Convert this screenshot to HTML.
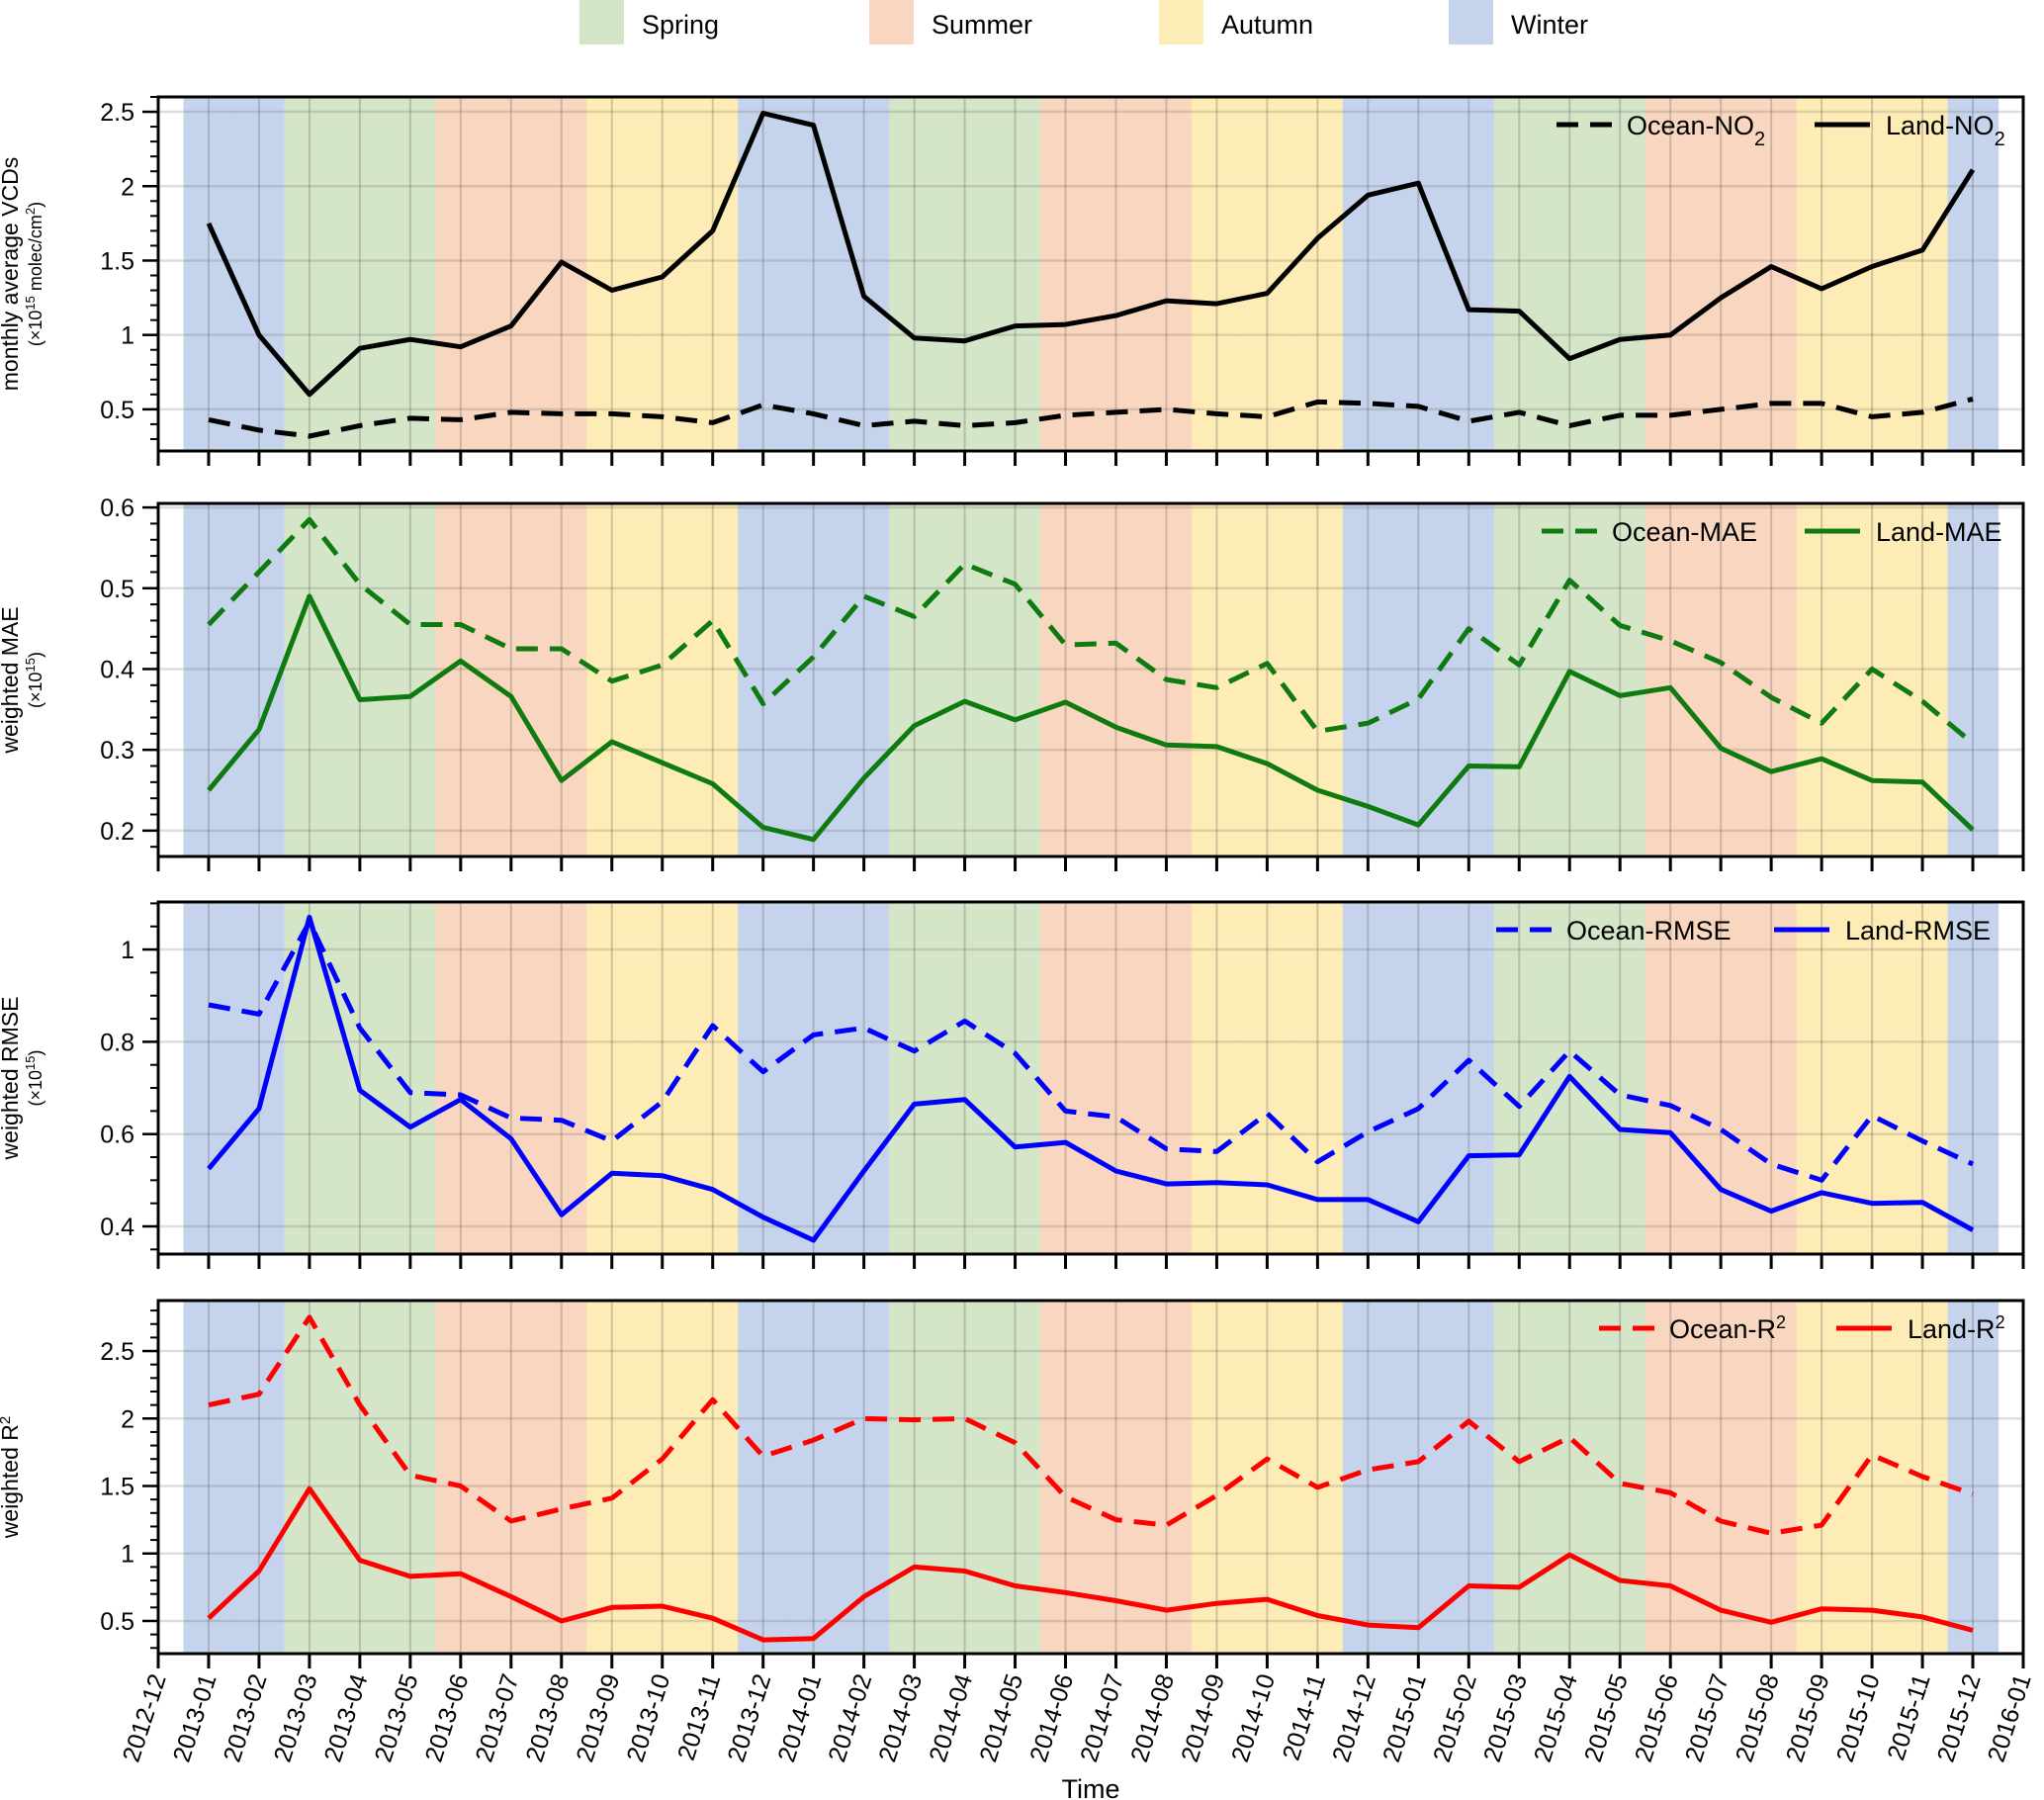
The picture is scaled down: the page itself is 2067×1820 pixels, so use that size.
<!DOCTYPE html>
<html><head><meta charset="utf-8">
<style>
html,body{margin:0;padding:0;background:#fff;}
svg{display:block;font-family:"Liberation Sans",sans-serif;}
</style></head>
<body>
<svg id="chart" width="2067" height="1820" viewBox="0 0 2067 1820"></svg>
<script>
const months = ["2012-12","2013-01","2013-02","2013-03","2013-04","2013-05","2013-06","2013-07","2013-08","2013-09","2013-10","2013-11","2013-12","2014-01","2014-02","2014-03","2014-04","2014-05","2014-06","2014-07","2014-08","2014-09","2014-10","2014-11","2014-12","2015-01","2015-02","2015-03","2015-04","2015-05","2015-06","2015-07","2015-08","2015-09","2015-10","2015-11","2015-12","2016-01"];
const landNO2 = [1.75,1.0,0.6,0.91,0.97,0.92,1.06,1.49,1.3,1.39,1.7,2.49,2.41,1.26,0.98,0.96,1.06,1.07,1.13,1.23,1.21,1.28,1.65,1.94,2.02,1.17,1.16,0.84,0.97,1.0,1.25,1.46,1.31,1.46,1.57,2.11];
const oceanNO2 = [0.43,0.36,0.32,0.39,0.44,0.43,0.48,0.47,0.47,0.45,0.41,0.53,0.47,0.39,0.42,0.39,0.41,0.46,0.48,0.5,0.47,0.45,0.55,0.54,0.52,0.42,0.48,0.39,0.46,0.46,0.5,0.54,0.54,0.45,0.48,0.57];
const oceanMAE = [0.455,0.52,0.585,0.505,0.455,0.455,0.425,0.425,0.385,0.405,0.46,0.357,0.415,0.49,0.465,0.53,0.505,0.43,0.432,0.387,0.377,0.407,0.323,0.333,0.363,0.45,0.405,0.51,0.454,0.435,0.408,0.365,0.333,0.4,0.36,0.308];
const landMAE = [0.25,0.325,0.49,0.362,0.366,0.41,0.366,0.262,0.31,0.284,0.258,0.204,0.189,0.265,0.33,0.36,0.337,0.359,0.328,0.306,0.304,0.283,0.25,0.23,0.207,0.28,0.279,0.397,0.367,0.377,0.302,0.273,0.289,0.262,0.26,0.201];
const oceanRMSE = [0.88,0.86,1.06,0.83,0.69,0.685,0.635,0.63,0.585,0.67,0.835,0.735,0.815,0.83,0.78,0.845,0.775,0.65,0.637,0.568,0.562,0.645,0.54,0.605,0.655,0.76,0.66,0.78,0.685,0.662,0.61,0.535,0.5,0.64,0.585,0.535];
const landRMSE = [0.525,0.655,1.07,0.695,0.615,0.675,0.59,0.425,0.515,0.51,0.48,0.42,0.37,0.52,0.665,0.675,0.572,0.582,0.52,0.492,0.495,0.49,0.458,0.458,0.41,0.553,0.555,0.725,0.61,0.603,0.48,0.433,0.473,0.45,0.452,0.392];
const oceanR2 = [2.1,2.18,2.75,2.1,1.58,1.5,1.24,1.33,1.41,1.7,2.14,1.72,1.84,2.0,1.99,2.0,1.82,1.42,1.25,1.21,1.43,1.7,1.49,1.62,1.68,1.98,1.68,1.86,1.52,1.45,1.24,1.15,1.21,1.73,1.57,1.44];
const landR2 = [0.52,0.87,1.48,0.95,0.83,0.85,0.68,0.5,0.6,0.61,0.52,0.36,0.37,0.68,0.9,0.87,0.76,0.71,0.65,0.58,0.63,0.66,0.54,0.47,0.45,0.76,0.75,0.99,0.8,0.76,0.58,0.49,0.59,0.58,0.53,0.43];
const ticksNO2 = [0.5,1,1.5,2,2.5];
const ticksMAE = [0.2,0.3,0.4,0.5,0.6];
const ticksRMSE = [0.4,0.6,0.8,1];
const ticksR2 = [0.5,1,1.5,2,2.5];
const seasonNames = ["Spring","Summer","Autumn","Winter"];

const NS = "http://www.w3.org/2000/svg";
const svg = document.getElementById("chart");
function mk(tag, attrs, parent){ const e=document.createElementNS(NS,tag); for(const k in attrs) e.setAttribute(k,attrs[k]); (parent||svg).appendChild(e); return e; }

const X0=160, X1=2046;
function xs(i){ return X0 + i*(X1-X0)/37; }
const seasonColors = {Spring:"#d5e5c8",Summer:"#f9d6bf",Autumn:"#feecb6",Winter:"#c5d4ec"};
function seasonOf(m){ if(m===12||m<=2) return "Winter"; if(m<=5) return "Spring"; if(m<=8) return "Summer"; return "Autumn"; }

const legX = [586,879,1172,1465];
seasonNames.forEach((s,k)=>{
  const g = mk("g",{});
  
  
  mk("rect",{x:legX[k],y:0,width:45,height:45,fill:seasonColors[s]},g);
  const t = mk("text",{x:legX[k]+63,y:34,"font-size":27,fill:"#000"},g);
  t.textContent = s;
});

const panels = [
  {name:"no2",top:98,bot:456,ymin:0.22,ymax:2.6,ticks:ticksNO2,minor:0.1,color:"#000",ocean:oceanNO2,land:landNO2,
   lab:["monthly average VCDs","(×10<tspan baseline-shift='super' font-size='13'>15</tspan> molec/cm<tspan baseline-shift='super' font-size='13'>2</tspan>)"],
   l1:"Ocean-NO<tspan baseline-shift='sub' font-size='20'>2</tspan>",l2:"Land-NO<tspan baseline-shift='sub' font-size='20'>2</tspan>",lx:[1574,1835]},
  {name:"mae",top:509,bot:866,ymin:0.168,ymax:0.605,ticks:ticksMAE,minor:0.02,color:"#0f7a0f",ocean:oceanMAE,land:landMAE,
   lab:["weighted MAE","(×10<tspan baseline-shift='super' font-size='13'>15</tspan>)"],l1:"Ocean-MAE",l2:"Land-MAE",lx:[1559,1825]},
  {name:"rmse",top:912,bot:1268,ymin:0.34,ymax:1.103,ticks:ticksRMSE,minor:0.05,color:"#0000ff",ocean:oceanRMSE,land:landRMSE,
   lab:["weighted RMSE","(×10<tspan baseline-shift='super' font-size='13'>15</tspan>)"],l1:"Ocean-RMSE",l2:"Land-RMSE",lx:[1513,1794]},
  {name:"r2",top:1315,bot:1672,ymin:0.258,ymax:2.874,ticks:ticksR2,minor:0.1,color:"#ff0000",ocean:oceanR2,land:landR2,
   lab:["weighted R<tspan baseline-shift='super' font-size='15'>2</tspan>"],l1:"Ocean-R<tspan baseline-shift='super' font-size='18'>2</tspan>",l2:"Land-R<tspan baseline-shift='super' font-size='18'>2</tspan>",lx:[1617,1857]}
];

panels.forEach((p,pi)=>{
  const g = mk("g",{});
  
  
  const ys = v => p.bot - (v-p.ymin)*(p.bot-p.top)/(p.ymax-p.ymin);
  for(let i=1;i<=36;i++){
    const m = ((i+11)%12)+1;
    const r = mk("rect",{x:xs(i-0.5),y:p.top,width:xs(1)-xs(0)+0.6,height:p.bot-p.top,fill:seasonColors[seasonOf(m)]},g);
    
    
  }
  for(let i=0;i<=37;i++) mk("line",{x1:xs(i),x2:xs(i),y1:p.top,y2:p.bot,stroke:"rgba(90,90,90,0.28)","stroke-width":2},g);
  p.ticks.forEach(t=>mk("line",{x1:X0,x2:X1,y1:ys(t),y2:ys(t),stroke:"rgba(90,90,90,0.2)","stroke-width":2.5},g));
  for(let v=Math.ceil(p.ymin/p.minor)*p.minor; v<=p.ymax+1e-9; v+=p.minor){
    mk("line",{x1:X0-8,x2:X0,y1:ys(v),y2:ys(v),stroke:"#000","stroke-width":2},g);
  }
  p.ticks.forEach(t=>{
    mk("line",{x1:X0-16,x2:X0,y1:ys(t),y2:ys(t),stroke:"#000","stroke-width":2.5},g);
    const tx = mk("text",{x:136,y:ys(t)+9,"font-size":25,"text-anchor":"end"},g);
    
    
    tx.textContent = String(t);
  });
  for(let i=0;i<=37;i++) mk("line",{x1:xs(i),x2:xs(i),y1:p.bot,y2:p.bot+15,stroke:"#000","stroke-width":3},g);
  const cy=(p.top+p.bot)/2;
  const yl = mk("text",{x:0,y:0,"font-size":23,"text-anchor":"middle",transform:`translate(18,${cy}) rotate(-90)`},g);
  
  
  yl.innerHTML = p.lab[0];
  if(p.lab[1]){
    const y2 = mk("text",{x:0,y:0,"font-size":18,"text-anchor":"middle",transform:`translate(42,${cy}) rotate(-90)`},g);
    
    
    y2.innerHTML = p.lab[1];
  }
  const pts = arr => arr.map((v,i)=>xs(i+1).toFixed(1)+","+ys(v).toFixed(1)).join(" ");
  const lo = mk("polyline",{points:pts(p.ocean),fill:"none",stroke:p.color,"stroke-width":5,"stroke-dasharray":"22,12","stroke-linejoin":"round"},g);
  
  
  const ll = mk("polyline",{points:pts(p.land),fill:"none",stroke:p.color,"stroke-width":5,"stroke-linejoin":"round"},g);
  
  
  mk("rect",{x:X0,y:p.top,width:X1-X0,height:p.bot-p.top,fill:"none",stroke:"#000","stroke-width":3},g);
  const ly = p.top+28;
  const lg = mk("g",{},g);
  
  
  mk("line",{x1:p.lx[0],x2:p.lx[0]+60,y1:ly,y2:ly,stroke:p.color,"stroke-width":5,"stroke-dasharray":"22,12"},lg);
  const t1 = mk("text",{x:p.lx[0]+71,y:ly+10,"font-size":27},lg);
  t1.innerHTML = p.l1;
  mk("line",{x1:p.lx[1],x2:p.lx[1]+56,y1:ly,y2:ly,stroke:p.color,"stroke-width":5},lg);
  const t2 = mk("text",{x:p.lx[1]+72,y:ly+10,"font-size":27},lg);
  t2.innerHTML = p.l2;
});

const last = panels[3];
months.forEach((m,i)=>{
  const t = mk("text",{x:0,y:0,"font-size":25,"text-anchor":"end",transform:`translate(${xs(i)+8},${last.bot+24}) rotate(-72)`});
  
  
  t.textContent = m;
});
const xt = mk("text",{x:1103,y:1818,"font-size":27,"text-anchor":"middle"});


xt.textContent = "Time";
</script>
</body></html>
